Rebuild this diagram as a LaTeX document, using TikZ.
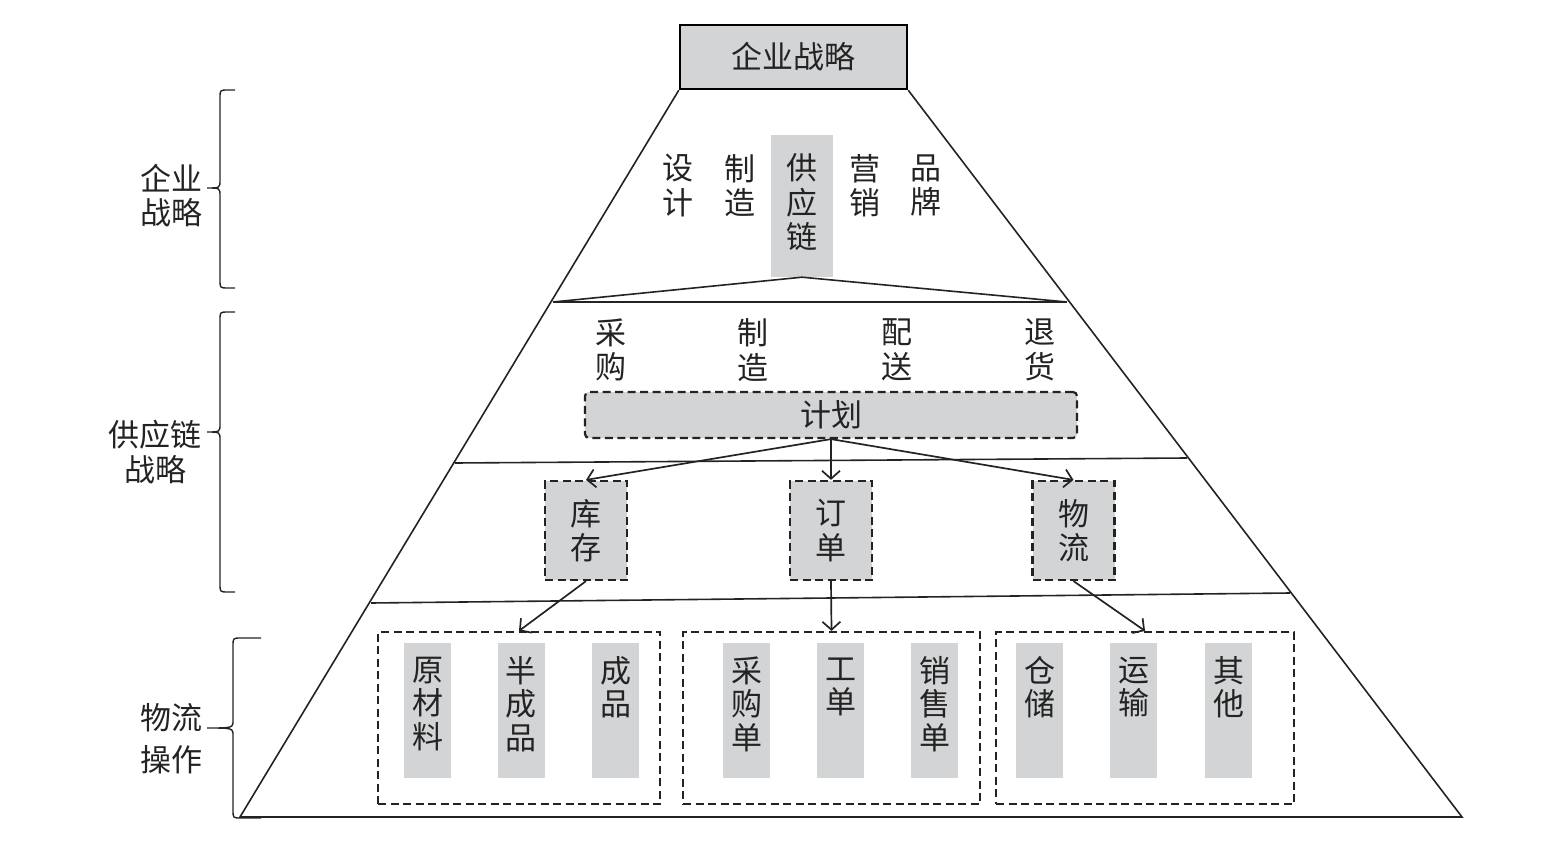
\documentclass[tikz,border=0pt]{standalone}
\usepackage{fontspec}
\setmainfont{Noto Sans CJK SC}
\usetikzlibrary{arrows.meta,calc}
\definecolor{boxgray}{RGB}{211,212,214}
\definecolor{ink}{RGB}{35,35,35}
\newcommand{\mybrace}[6]{% xe xv xt ytop ymid ybot
  \draw[bracestyle] (#1,#4) -- (#2+8,#4) .. controls (#2,#4) .. (#2,#4+8)
    -- (#2,#5-8) .. controls (#2,#5) .. (#3,#5)
    .. controls (#2,#5) .. (#2,#5+8)
    -- (#2,#6-8) .. controls (#2,#6) .. (#2+8,#6) -- (#1,#6);}
\begin{document}
\begin{tikzpicture}[x=1pt,y=-1pt,
  txt/.style={font=\fontsize{31}{34.5}\selectfont, align=center, inner sep=0pt, text=ink},
  coltxt/.style={font=\fontsize{31}{33.5}\selectfont, align=center, inner sep=0pt, text=ink},
  topbox/.style={draw=black, line width=2.5pt, fill=boxgray, inner sep=0pt,
    font=\fontsize{31}{34}\selectfont, text=ink},
  graycol/.style={fill=boxgray, draw=none, inner sep=0pt},
  dashbox/.style={draw=ink, dash pattern=on 8pt off 4.5pt, line width=2.2pt, fill=boxgray, inner sep=0pt},
  grp/.style={draw=ink, dash pattern=on 8pt off 4.5pt, line width=2.2pt, inner sep=0pt},
  pyr/.style={draw=ink, line width=1.6pt},
  bracestyle/.style={draw=ink, line width=1.4pt},
  arr/.style={draw=ink, line width=1.7pt, -{Straight Barb[length=8pt,width=18pt]}}
]
\useasboundingbox (0,0) rectangle (1555,842);

% top box
\node[topbox, minimum width=227pt, minimum height=64pt] (top) at (793.5,57) {企业战略};

% pyramid outline
\draw[pyr] (top.south west) -- (240,817) -- (1462,817) -- (top.south east);
\draw[pyr] (553,302) -- (1067,302);
\draw[pyr] (455,463) -- (1187,458);
\draw[pyr] (371,603) -- (1290,593);

% enterprise strategy level
\node[txt] (sj) at (678,185.5) {设\\计};
\node[txt] (zz1) at (740,185.5) {制\\造};
\node[graycol, minimum width=62pt, minimum height=142pt] (scm) at (802,206) {};
\node[txt] (gyl) at (802,202.5) {供\\应\\链};
\node[txt] (yx) at (865,185.5) {营\\销};
\node[txt] (pp) at (926,185.5) {品\\牌};
\draw[pyr] (553,302) -- (scm.south) -- (1067,302);

% supply chain level
\node[txt] (cg) at (611,350) {采\\购};
\node[txt] (zz2) at (753,350) {制\\造};
\node[txt] (ps) at (897,350) {配\\送};
\node[txt] (th) at (1040,350) {退\\货};
\node[dashbox, rounded corners=4pt, minimum width=492pt, minimum height=46pt,
  font=\fontsize{31}{34}\selectfont, text=ink] (plan) at (831,415) {计划};

\node[dashbox, minimum width=82pt, minimum height=99pt] (inv) at (586,530.5) {};
\node[txt] at (inv.center) {库\\存};
\node[dashbox, minimum width=82pt, minimum height=99pt] (ord) at (831,530.5) {};
\node[txt] at (ord.center) {订\\单};
\node[dashbox, minimum width=82pt, minimum height=99pt] (wl) at (1073.5,530.5) {};
\node[txt] at (wl.center) {物\\流};

\draw[arr] (plan.south) -- (inv.north);
\draw[arr] (plan.south) -- (ord.north);
\draw[arr] (plan.south) -- (wl.north);

% logistics operation level
\node[grp, minimum width=282pt, minimum height=172pt] (g1) at (519,718) {};
\node[grp, minimum width=297pt, minimum height=172pt] (g2) at (831.5,718) {};
\node[grp, minimum width=298pt, minimum height=172pt] (g3) at (1145,718) {};

\draw[arr] (inv.south) -- (g1.north);
\draw[arr] (ord.south) -- (g2.north);
\draw[arr] (wl.south) -- (g3.north);

\foreach \nm/\x in {c11/427.5, c12/521, c13/615.5, c21/746.5, c22/840.5, c23/934.5, c31/1039.5, c32/1133.5, c33/1228.5}{
  \node[graycol, minimum width=47pt, minimum height=135pt] (\nm) at (\x,710.5) {};
}
\node[coltxt] (t11) at (427.5,704) {原\\材\\料};
\node[coltxt] (t12) at (521,704) {半\\成\\品};
\node[coltxt] (t13) at (615.5,687) {成\\品};
\node[coltxt] (t21) at (746.5,704) {采\\购\\单};
\node[coltxt] (t22) at (840.5,687) {工\\单};
\node[coltxt] (t23) at (934.5,704) {销\\售\\单};
\node[coltxt] (t31) at (1039.5,687) {仓\\储};
\node[coltxt] (t32) at (1133.5,687) {运\\输};
\node[coltxt] (t33) at (1228.5,687) {其\\他};

% left braces and labels
\mybrace{235}{220}{207}{90}{188}{288}
\mybrace{235}{220}{207}{312}{432}{592}
\mybrace{261}{233}{207}{638}{728}{818}
\node[txt] (l1) at (171,195.5) {企业\\战略};
\node[txt] (l2) at (155,452) {供应链\\战略};
\node[txt, font=\fontsize{31}{42}\selectfont] (l3) at (171,739) {物流\\操作};
\end{tikzpicture}
\end{document}
